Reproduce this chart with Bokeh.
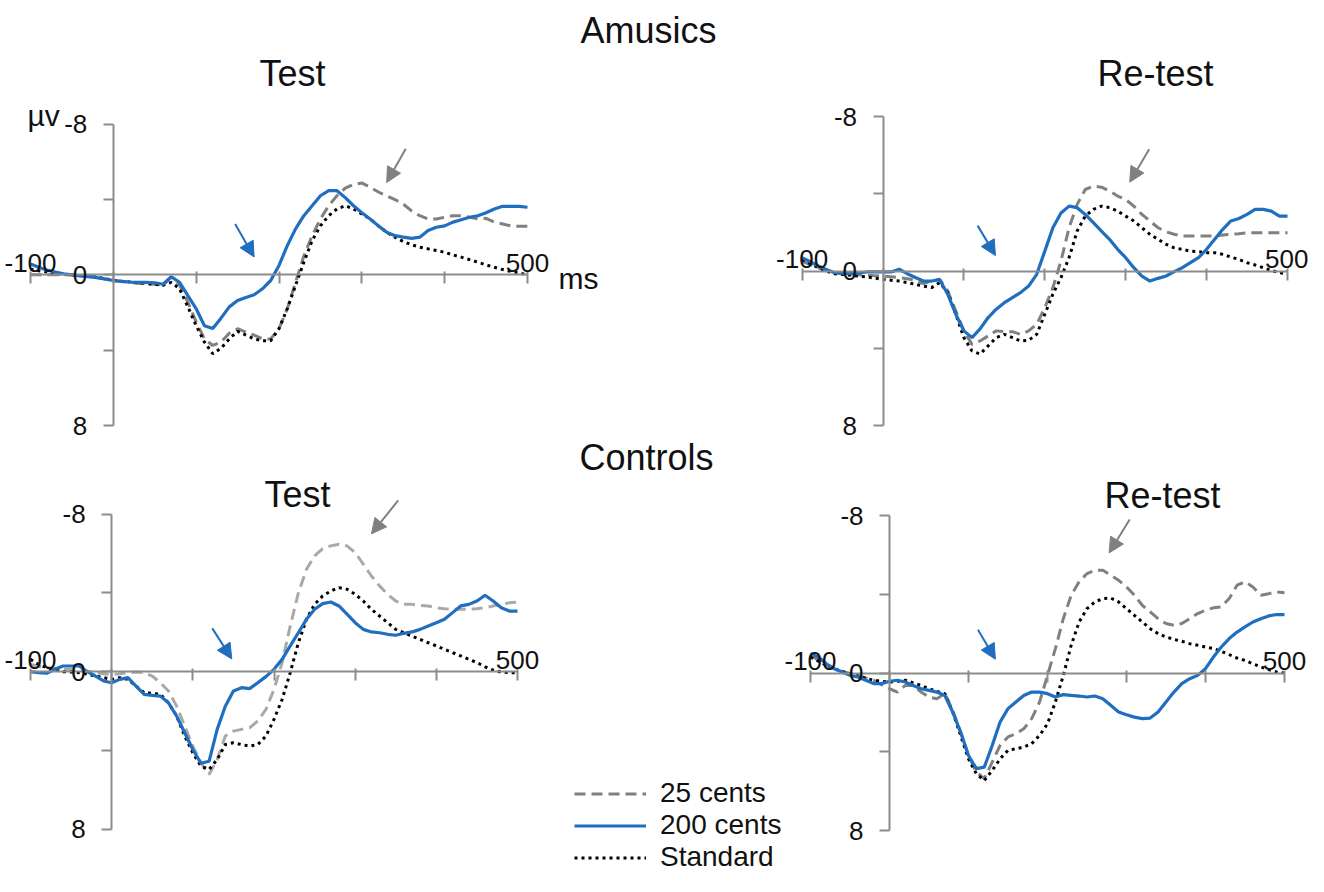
from bokeh.plotting import figure
from bokeh.models import (Range1d, LinearAxis, FixedTicker, Arrow, NormalHead,
                          Legend, LegendItem)
from bokeh.core.properties import value
from bokeh.embed import file_html
from bokeh.resources import INLINE

# ---------------- data (µV, negative up) ----------------
TIME_MS = list(range(-100, 501, 10))

A_TEST_25 = [0.0, 0.0, 0.0, 0.0, 0.0, 0.0, 0.05, 0.1, 0.15, 0.22, 0.3, 0.35, 0.4, 0.45, 0.48, 0.5,
             0.55, 0.1, 0.55, 1.45, 2.5, 3.4, 3.75, 3.57, 3.1, 2.86, 3.04, 3.2, 3.4, 3.4, 2.86,
             1.8, 0.39, -1.0, -2.08, -2.97, -3.67, -4.2, -4.6, -4.8, -4.88, -4.65, -4.4, -4.2,
             -4.0, -3.76, -3.4, -3.14, -2.97, -2.97, -3.06, -3.14, -3.14, -3.06, -2.97, -3.0,
             -2.8, -2.7, -2.6, -2.58, -2.58]
A_TEST_200 = [-0.58, -0.4, -0.25, -0.15, -0.05, 0.0, 0.05, 0.08, 0.15, 0.22, 0.3, 0.35, 0.38, 0.4,
              0.4, 0.42, 0.5, 0.1, 0.4, 1.1, 1.8, 2.7, 2.85, 2.3, 1.7, 1.36, 1.2, 1.06, 0.74, 0.3,
              -0.5, -1.55, -2.44, -3.14, -3.67, -4.2, -4.47, -4.47, -4.1, -3.67, -3.3, -2.97,
              -2.6, -2.26, -2.08, -2.0, -1.94, -2.0, -2.35, -2.53, -2.6, -2.8, -2.93, -3.06,
              -3.14, -3.3, -3.5, -3.64, -3.64, -3.64, -3.59]
A_TEST_STD = [-0.3, -0.22, -0.15, -0.08, -0.03, 0.0, 0.04, 0.07, 0.12, 0.2, 0.3, 0.34, 0.38, 0.42,
              0.46, 0.5, 0.55, 0.4, 0.74, 1.7, 2.7, 3.57, 4.19, 3.9, 3.4, 3.0, 3.2, 3.4, 3.5, 3.5,
              2.86, 1.8, 0.56, -0.67, -1.82, -2.6, -3.14, -3.5, -3.67, -3.5, -3.23, -2.97, -2.6,
              -2.26, -2.0, -1.77, -1.6, -1.47, -1.38, -1.29, -1.2, -1.06, -0.94, -0.81, -0.67,
              -0.53, -0.4, -0.28, -0.18, -0.1, 0.0]

A_RETEST_25 = [-0.5, -0.33, -0.17, -0.04, 0.09, 0.13, 0.17, 0.2, 0.22, 0.24, 0.26, 0.3, 0.34, 0.4,
               0.48, 0.65, 0.52, 0.43, 1.03, 2.07, 3.1, 3.8, 3.62, 3.36, 3.1, 3.14, 3.14, 3.28,
               3.1, 2.76, 1.9, 0.86, -0.52, -2.24, -3.45, -4.22, -4.4, -4.34, -4.14, -3.88, -3.7,
               -3.36, -2.93, -2.59, -2.24, -2.03, -1.9, -1.81, -1.81, -1.81, -1.81, -1.81, -1.86,
               -1.9, -1.93, -1.98, -1.98, -1.98, -1.98, -1.98, -1.98]
A_RETEST_200 = [-0.69, -0.48, -0.26, -0.08, 0.09, 0.12, 0.14, 0.1, 0.05, 0.05, 0.05, 0.05, -0.09,
                0.14, 0.34, 0.52, 0.52, 0.45, 1.2, 2.24, 3.1, 3.45, 3.0, 2.41, 1.98, 1.64, 1.38,
                1.12, 0.78, 0.17, -1.03, -2.24, -3.0, -3.36, -3.28, -2.93, -2.5, -2.07, -1.64,
                -1.12, -0.69, -0.17, 0.26, 0.52, 0.38, 0.26, 0.03, -0.17, -0.43, -0.69, -1.12,
                -1.64, -2.16, -2.59, -2.72, -2.93, -3.19, -3.19, -3.1, -2.84, -2.84]
A_RETEST_STD = [-0.6, -0.38, -0.17, 0.0, 0.14, 0.18, 0.22, 0.27, 0.31, 0.37, 0.43, 0.48, 0.52, 0.6,
                0.69, 0.78, 0.86, 0.6, 1.12, 2.24, 3.45, 4.14, 4.3, 3.88, 3.45, 3.28, 3.45, 3.62,
                3.59, 3.28, 2.24, 1.2, 0.34, -0.69, -2.07, -2.84, -3.19, -3.36, -3.28, -3.1, -2.84,
                -2.59, -2.24, -1.9, -1.64, -1.38, -1.2, -1.12, -1.03, -1.0, -0.95, -0.95, -0.86,
                -0.72, -0.6, -0.43, -0.31, -0.17, -0.03, 0.09, 0.14]

C_TEST_25 = [-0.37, -0.28, -0.2, -0.16, -0.12, -0.12, -0.12, -0.03, 0.05, 0.1, 0.14, 0.1, 0.05, 0.02,
             0.05, 0.22, 0.56, 0.98, 1.75, 2.76, 3.78, 4.63, 5.22, 4.46, 3.27, 3.02, 2.93, 2.85,
             2.5, 1.92, 0.9, -0.46, -2.32, -4.0, -5.2, -5.88, -6.25, -6.39, -6.47, -6.39, -6.05,
             -5.46, -4.86, -4.36, -3.93, -3.59, -3.42, -3.42, -3.37, -3.34, -3.25, -3.2, -3.17,
             -3.17, -3.17, -3.2, -3.25, -3.34, -3.42, -3.5, -3.54]
C_TEST_200 = [0.0, 0.05, 0.08, -0.12, -0.29, -0.29, -0.29, 0.0, 0.22, 0.47, 0.56, 0.39, 0.3, 0.73,
              1.15, 1.2, 1.24, 1.58, 2.25, 3.1, 3.95, 4.65, 4.55, 2.93, 1.75, 0.98, 0.81, 0.86,
              0.56, 0.25, -0.12, -0.63, -1.31, -1.98, -2.66, -3.17, -3.46, -3.54, -3.34, -2.92,
              -2.49, -2.15, -2.02, -1.98, -1.9, -1.85, -1.95, -2.02, -2.15, -2.32, -2.49, -2.66,
              -3.0, -3.34, -3.42, -3.59, -3.88, -3.59, -3.25, -3.08, -3.08]
C_TEST_STD = [-0.63, -0.37, -0.2, -0.1, 0.0, 0.02, 0.05, 0.13, 0.22, 0.3, 0.39, 0.3, 0.39, 0.73,
              1.07, 1.1, 1.15, 1.58, 2.25, 3.27, 4.12, 4.8, 4.97, 4.46, 3.7, 3.61, 3.7, 3.78, 3.7,
              3.27, 2.42, 1.41, 0.05, -1.47, -2.66, -3.42, -3.85, -4.1, -4.27, -4.19, -3.93,
              -3.59, -3.17, -2.83, -2.49, -2.15, -1.98, -1.81, -1.64, -1.47, -1.31, -1.14, -0.97,
              -0.8, -0.63, -0.46, -0.25, -0.08, 0.02, 0.05, 0.05]

C_RETEST_25 = [-0.9, -0.65, -0.39, -0.22, -0.08, 0.02, 0.12, 0.25, 0.37, 0.6, 0.8, 0.97, 0.63, 0.63,
               0.97, 1.22, 1.31, 1.05, 1.9, 3.0, 4.19, 5.03, 5.37, 4.53, 3.68, 3.25, 3.08, 2.83,
               2.32, 1.47, 0.12, -1.24, -2.76, -3.95, -4.63, -5.05, -5.22, -5.22, -4.97, -4.71,
               -4.37, -3.95, -3.44, -3.1, -2.76, -2.51, -2.42, -2.51, -2.76, -3.02, -3.19, -3.31,
               -3.36, -3.78, -4.46, -4.63, -4.37, -3.95, -4.03, -4.12, -4.08]
C_RETEST_200 = [-0.98, -0.81, -0.47, -0.22, -0.05, 0.12, 0.2, 0.37, 0.54, 0.54, 0.42, 0.37, 0.46,
                0.63, 0.8, 0.88, 0.97, 1.14, 1.98, 3.0, 4.19, 4.86, 4.78, 3.68, 2.49, 1.81, 1.47,
                1.14, 0.97, 0.97, 1.05, 1.22, 1.1, 1.14, 1.17, 1.22, 1.17, 1.31, 1.64, 1.98, 2.12,
                2.24, 2.32, 2.29, 1.98, 1.47, 0.97, 0.54, 0.29, 0.12, -0.22, -0.81, -1.32, -1.75,
                -2.08, -2.34, -2.59, -2.76, -2.9, -2.97, -2.97]
C_RETEST_STD = [-0.81, -0.6, -0.39, -0.22, -0.08, 0.04, 0.15, 0.27, 0.37, 0.42, 0.46, 0.42, 0.37,
                0.5, 0.63, 0.8, 0.93, 1.05, 1.98, 3.17, 4.36, 5.12, 5.46, 4.95, 4.36, 3.93, 3.85,
                3.76, 3.59, 3.17, 2.58, 1.47, 0.12, -1.41, -2.59, -3.27, -3.61, -3.78, -3.81,
                -3.61, -3.27, -2.93, -2.59, -2.25, -2.0, -1.83, -1.71, -1.61, -1.49, -1.41, -1.32,
                -1.24, -1.1, -0.93, -0.76, -0.64, -0.47, -0.31, -0.17, -0.05, 0.0]

X_TICKS = [-100, 0, 100, 200, 300, 400, 500]
X_TICK_LABELS = {-100: "-100", 500: "500"}
Y_TICKS = [-8, -4, 0, 4, 8]
Y_TICK_LABELS = {-8: "-8", 0: "0", 8: "8"}

PANEL_KEYS = ["a_test", "a_retest", "c_test", "c_retest"]
SERIES = {
    "a_test": (A_TEST_25, A_TEST_200, A_TEST_STD),
    "a_retest": (A_RETEST_25, A_RETEST_200, A_RETEST_STD),
    "c_test": (C_TEST_25, C_TEST_200, C_TEST_STD),
    "c_retest": (C_RETEST_25, C_RETEST_200, C_RETEST_STD),
}
LEGEND_LABELS = ["25 cents", "200 cents", "Standard"]
TITLES = ["Amusics", "Test", "Re-test", "Controls", "Test", "Re-test"]

# arrows: (x_start ms, y_start µV, x_end ms, y_end µV)
BLUE_ARROWS = {"a_test": (147, -2.7, 170, -0.95), "a_retest": (117, -2.35, 139, -0.8),
               "c_test": (124, -2.2, 148, -0.65), "c_retest": (112, -2.2, 134, -0.7)}
GRAY_ARROWS = {"a_test": (353, -6.7, 330, -4.9), "a_retest": (329, -6.3, 305, -4.6),
               "c_test": (353, -8.7, 320, -7.0), "c_retest": (304, -7.8, 278, -6.1)}

# ---------------- layout / style ----------------
W, H = 1308, 876
OFF = 8  # page margin
# page-pixel positions of (-100 ms, 500 ms) and (-8 µV, +8 µV) per panel
PANEL_BOX = {
    "a_test": (38, 535, 131.7, 433),
    "a_retest": (809.6, 1295, 124, 433),
    "c_test": (38, 525, 521.7, 836.7),
    "c_retest": (818, 1292, 523, 838),
}
TITLE_POS = [(656, 38), (300, 81), (1163, 81), (654, 465), (305, 502), (1170, 503)]
FONT = "Liberation Sans"
AXIS_COLOR = "#8c8c8c"
BLUE = "#1f6ebf"
GRAY = "#808080"
GRAY_LIGHT = "#a9a9a9"
TEXT_COLOR = "#111111"

p = figure(width=W, height=H, x_range=Range1d(0, W), y_range=Range1d(H, 0),
           output_backend="svg", toolbar_location=None, x_axis_type=None, y_axis_type=None,
           min_border=0, outline_line_color=None)
p.background_fill_color = "white"
p.border_fill_color = "white"

legend_renderers = None
for key in PANEL_KEYS:
    px0, px1, py0, py1 = PANEL_BOX[key]
    sx = (px1 - px0) / 600.0
    xs = -100 - (px0 - OFF) / sx
    p.extra_x_ranges[key] = Range1d(xs, xs + W / sx)
    sy = (py1 - py0) / 16.0
    ye = -8 - (py0 - OFF) / sy
    p.extra_y_ranges[key] = Range1d(ye + H / sy, ye)

    xax = LinearAxis(x_range_name=key, y_range_name=key, fixed_location=0, bounds=(-100, 500),
                     ticker=FixedTicker(ticks=X_TICKS),
                     major_label_overrides={t: X_TICK_LABELS.get(t, "") for t in X_TICKS})
    xax.axis_line_color = AXIS_COLOR
    xax.axis_line_width = 2
    xax.major_tick_line_color = AXIS_COLOR
    xax.major_tick_line_width = 2
    xax.major_tick_out = 3
    xax.major_tick_in = 9
    xax.minor_tick_line_color = None
    xax.major_label_standoff = 0
    xax.major_label_text_font = FONT
    xax.major_label_text_font_size = "26px"
    xax.major_label_text_color = TEXT_COLOR
    p.add_layout(xax, "above")

    yax = LinearAxis(x_range_name=key, y_range_name=key, fixed_location=0, bounds=(-8, 8),
                     ticker=FixedTicker(ticks=Y_TICKS),
                     major_label_overrides={t: Y_TICK_LABELS.get(t, "") for t in Y_TICKS})
    yax.axis_line_color = AXIS_COLOR
    yax.axis_line_width = 2
    yax.major_tick_line_color = AXIS_COLOR
    yax.major_tick_line_width = 2
    yax.major_tick_out = 10
    yax.major_tick_in = 0
    yax.minor_tick_line_color = None
    yax.major_label_standoff = 16
    yax.major_label_text_font = FONT
    yax.major_label_text_font_size = "26px"
    yax.major_label_text_color = TEXT_COLOR
    p.add_layout(yax, "left")

    s25, s200, sstd = SERIES[key]
    dash_color = GRAY_LIGHT if key == "c_test" else GRAY
    r25 = p.line(TIME_MS, s25, x_range_name=key, y_range_name=key, line_color=dash_color,
                 line_width=3, line_dash="11 6")
    rstd = p.line(TIME_MS, sstd, x_range_name=key, y_range_name=key, line_color="black",
                  line_width=3, line_dash="3 4")
    r200 = p.line(TIME_MS, s200, x_range_name=key, y_range_name=key, line_color=BLUE,
                  line_width=3.2)
    if legend_renderers is None:
        legend_renderers = [r25, r200, rstd]

    for arrows, col in ((BLUE_ARROWS, BLUE), (GRAY_ARROWS, GRAY)):
        x0, y0, x1, y1 = arrows[key]
        p.add_layout(Arrow(end=NormalHead(size=15, fill_color=col, line_color=col, line_width=1),
                           x_start=x0, y_start=y0, x_end=x1, y_end=y1,
                           x_range_name=key, y_range_name=key,
                           line_color=col, line_width=2))

# titles (page pixel coordinates -> frame pixels)
p.text(x=[t[0] - OFF for t in TITLE_POS], y=[t[1] - OFF for t in TITLE_POS],
       text=TITLES, text_font=value(FONT), text_font_size="36px",
       text_align="center", text_baseline="alphabetic", text_color=TEXT_COLOR)
p.text(x=[35 - OFF], y=[123 - OFF], text=["µv"], text_font=value(FONT),
       text_font_size="30px", text_align="left", text_baseline="alphabetic",
       text_color=TEXT_COLOR)
p.text(x=[566 - OFF], y=[286 - OFF], text=["ms"], text_font=value(FONT),
       text_font_size="30px", text_align="left", text_baseline="alphabetic",
       text_color=TEXT_COLOR)

legend = Legend(items=[LegendItem(label=lab, renderers=[r])
                       for lab, r in zip(LEGEND_LABELS, legend_renderers)],
                location=(574, 3), glyph_width=72, glyph_height=31, label_height=31,
                spacing=0, padding=0, margin=0, label_standoff=14,
                border_line_color=None, background_fill_alpha=0,
                label_text_font=FONT, label_text_font_size="28px",
                label_text_color=TEXT_COLOR)
p.add_layout(legend)

open("out.html", "w").write(file_html(p, INLINE))
